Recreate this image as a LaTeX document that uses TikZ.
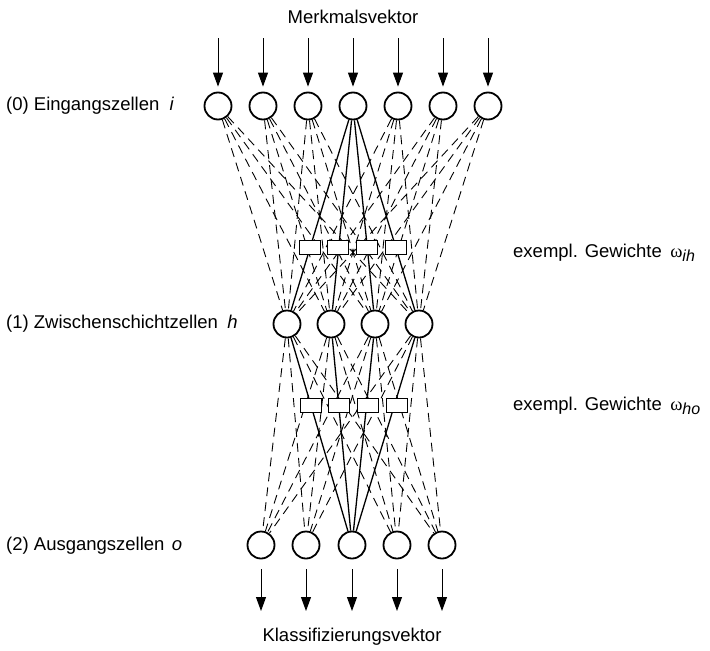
\documentclass[tikz,border=0pt]{standalone}
\usepackage{fontspec}
\setmainfont{Liberation Sans}
\newfontfamily\symf{Liberation Serif}
\usetikzlibrary{arrows.meta}
\begin{document}
\begin{tikzpicture}[x=1pt,y=-1pt,
 cell/.style={circle,draw,line width=1.8pt,minimum size=27pt,inner sep=0pt},
 wbox/.style={rectangle,draw,fill=white,line width=0.7pt,minimum width=21pt,minimum height=14pt,inner sep=0pt},
 dl/.style={line width=0.9pt,dash pattern=on 9pt off 6pt},
 sl/.style={line width=1.3pt},
 arr/.style={line width=1pt,-{Triangle[length=14pt,width=10pt]}},
 lbl/.style={font=\fontsize{18.5}{20}\selectfont,inner sep=0pt}]
\useasboundingbox (0,0) rectangle (710,651);
% input cells
\foreach \n/\x in {1/218,2/263,3/308,4/353,5/398,6/443,7/488}{
  \node[cell] (i\n) at (\x,106) {};
  \coordinate (ti\n) at (\x,38);
}
% hidden cells
\foreach \n/\x in {1/287,2/331,3/375,4/419}{
  \node[cell] (h\n) at (\x,324) {};
}
% output cells
\foreach \n/\x in {1/261,2/306,3/352,4/397,5/442}{
  \node[cell] (o\n) at (\x,545) {};
  \coordinate (to\n) at (\x,611) {};
}
% dashed connections input-hidden
\foreach \a in {1,2,3,5,6,7}{
  \foreach \b in {1,2,3,4}{
    \draw[dl] (i\a) -- (h\b);
  }
}
% dashed connections hidden-output
\foreach \a in {1,2,3,4}{
  \foreach \b in {1,2,4,5}{
    \draw[dl] (h\a) -- (o\b);
  }
}
% solid connections
\foreach \b in {1,2,3,4}{
  \draw[sl] (i4) -- (h\b);
  \draw[sl] (h\b) -- (o3);
}
% weight boxes
\foreach \n/\x in {1/310,2/338,3/367,4/396}{
  \node[wbox] (wa\n) at (\x,247) {};
}
\foreach \n/\x in {1/311,2/339,3/368,4/397}{
  \node[wbox] (wb\n) at (\x,405) {};
}
% arrows
\foreach \n in {1,...,7}{
  \draw[arr,shorten >=5pt] (ti\n) -- (i\n);
}
\foreach \n in {1,...,5}{
  \draw[arr,shorten <=10pt] (o\n) -- (to\n);
}
% texts
\node[lbl] (tm) at (353,17) {Merkmalsvektor};
\node[lbl] (tk) at (352,637) {Klassifizierungsvektor};
\node[lbl,anchor=west] (l0) at (6,106) {(0) Eingangszellen\hspace{0.55em}\textit{i}};
\node[lbl,anchor=west] (l1) at (6,324) {(1) Zwischenschichtzellen\hspace{0.5em}\textit{h}};
\node[lbl,anchor=west] (l2) at (6,546) {(2) Ausgangszellen\hspace{0.4em}\textit{o}};
\node[lbl,anchor=west] (r1) at (513,253) {exempl. Gewichte\hspace{0.45em}{\symf ω}\raisebox{-0.4ex}{\fontsize{16}{16}\selectfont\itshape ih}};
\node[lbl,anchor=west] (r2) at (513,406) {exempl. Gewichte\hspace{0.45em}{\symf ω}\raisebox{-0.4ex}{\fontsize{16}{16}\selectfont\itshape ho}};
\end{tikzpicture}
\end{document}
